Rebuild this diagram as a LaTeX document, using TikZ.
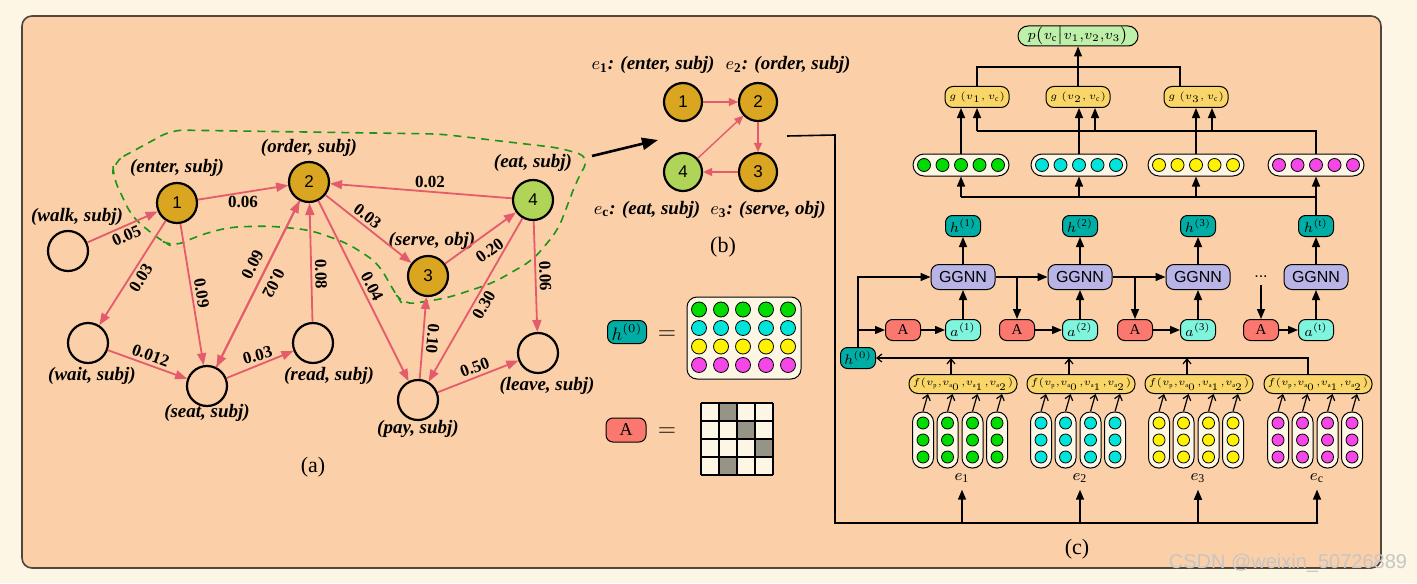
\documentclass[tikz,border=0pt]{standalone}
\usepackage{amsmath}
\usepackage{fontspec}
\setmainfont{Liberation Serif}
\setsansfont{Liberation Sans}
\usepackage{tikz}
\usetikzlibrary{arrows.meta, calc}

\definecolor{bgout}{RGB}{253,246,229}
\definecolor{peach}{RGB}{251,207,167}
\definecolor{framec}{RGB}{80,70,60}
\definecolor{goldn}{RGB}{218,165,32}
\definecolor{eatg}{RGB}{176,212,88}
\definecolor{edgec}{RGB}{228,92,108}
\definecolor{dashg}{RGB}{25,150,25}
\definecolor{creamc}{RGB}{253,246,229}
\definecolor{tealc}{RGB}{0,173,165}
\definecolor{salmonc}{RGB}{250,120,110}
\definecolor{aquac}{RGB}{127,245,222}
\definecolor{lavc}{RGB}{185,180,230}
\definecolor{goldbox}{RGB}{250,214,105}
\definecolor{pgreen}{RGB}{190,240,170}
\definecolor{dgreen}{RGB}{0,220,0}
\definecolor{dcyan}{RGB}{0,228,218}
\definecolor{dyellow}{RGB}{255,242,0}
\definecolor{dmag}{RGB}{245,70,230}
\definecolor{gridgray}{RGB}{150,147,135}

\newcommand{\evlbl}[1]{{\fontsize{9.5}{10}\selectfont\bfseries\itshape #1}}

\begin{document}
\begin{tikzpicture}[x=0.5pt, y=-0.5pt,
    gnode/.style={circle, draw, line width=1.1pt, minimum size=20pt, inner sep=0pt,
        font=\sffamily\fontsize{8.5}{9}\selectfont},
    bnode/.style={gnode, minimum size=19pt},
    wedge/.style={draw=edgec, line width=0.9pt, -{Triangle[length=6pt,width=4.5pt]}},
    bedge/.style={draw=edgec, line width=0.7pt, -{Triangle[length=4.5pt,width=4pt]}},
    elbl/.style={font=\bfseries\fontsize{8.5}{9}\selectfont, inner sep=1.5pt},
    cont/.style={draw=dashg, dashed, dash pattern=on 4pt off 3pt, line width=0.8pt},
    rbox/.style={draw, line width=0.5pt, rounded corners=3.5pt, inner sep=0pt,
        minimum width=17.5pt, minimum height=10.5pt, font=\fontsize{7.5}{8}\selectfont},
    hnode/.style={rbox, fill=tealc},
    Anode/.style={rbox, fill=salmonc},
    anode/.style={rbox, fill=aquac},
    ggnn/.style={rbox, fill=lavc, minimum width=32pt, minimum height=12.5pt,
        rounded corners=4pt, font=\sffamily\fontsize{8}{9}\selectfont},
    vbox/.style={rbox, fill=creamc, minimum width=48pt, minimum height=11pt, rounded corners=5.5pt},
    gbox/.style={rbox, fill=goldbox, minimum width=32pt, minimum height=10.5pt,
        rounded corners=4pt, font=\fontsize{5.5}{6}\selectfont},
    fbox/.style={rbox, fill=goldbox, minimum width=54pt, minimum height=9.5pt,
        rounded corners=4.5pt, font=\fontsize{4.6}{5}\selectfont},
    pbox/.style={rbox, fill=pgreen, minimum width=60pt, minimum height=10pt,
        rounded corners=5pt, font=\fontsize{7.5}{8}\selectfont},
    pill/.style={rbox, fill=creamc, minimum width=10.5pt, minimum height=28pt, rounded corners=5pt},
    dot/.style={circle, draw, line width=0.4pt, inner sep=0pt, minimum size=6pt},
    arr/.style={line width=0.7pt, -{Triangle[length=5pt,width=4pt]}},
    oarr/.style={line width=0.6pt, -{Straight Barb[length=2.5pt,width=4pt]}}]

    % Background and panel
    \fill[bgout] (0,0) rectangle (1417,583);
    \draw[framec, fill=peach, line width=0.8pt, rounded corners=5pt] (22,16) rectangle (1381,568);

    % ---------------- (a) event graph ----------------
    \draw[cont, rounded corners=6pt] (113,162) -- (172,130) -- (440,134) -- (560,148) -- (590,157)
        -- (577,180) -- (558,230) -- (533,260) -- (493,283) -- (447,298) -- (403,305) -- (395,293)
        -- (378,263) -- (347,243) -- (310,230) -- (270,226) -- (230,227) -- (200,235) -- (173,247)
        -- (160,240) -- (132,217) -- (113,177) -- cycle;

    \node[gnode] (walk) at (68,251) {};
    \node[gnode, fill=goldn] (enter) at (177,203) {1};
    \node[gnode, fill=goldn] (order) at (309,182) {2};
    \node[gnode, fill=goldn] (serve) at (428,276) {3};
    \node[gnode, fill=eatg] (eat) at (533,200) {4};
    \node[gnode] (wait) at (88,343) {};
    \node[gnode] (seat) at (207,386) {};
    \node[gnode] (read) at (313,343) {};
    \node[gnode] (pay) at (418,400) {};
    \node[gnode] (leave) at (538,353) {};

    \node (walk-t) at (77,217) {\evlbl{(walk, subj)}};
    \node (enter-t) at (177,168) {\evlbl{(enter, subj)}};
    \node (order-t) at (309,148) {\evlbl{(order, subj)}};
    \node (serve-t) at (432,241) {\evlbl{(serve, obj)}};
    \node (eat-t) at (533,163) {\evlbl{(eat, subj)}};
    \node (wait-t) at (92,376) {\evlbl{(wait, subj)}};
    \node (seat-t) at (207,413) {\evlbl{(seat, subj)}};
    \node (read-t) at (329,376) {\evlbl{(read, subj)}};
    \node (pay-t) at (418,429) {\evlbl{(pay, subj)}};
    \node (leave-t) at (547,386) {\evlbl{(leave, subj)}};

    % weighted edges
    \draw[wedge] (walk) -- node[elbl, rotate=24, below] (w1) {0.05} (enter);
    \draw[wedge] (enter) -- node[elbl, below] (w2) {0.06} (order);
    \draw[wedge] (enter) -- node[elbl, rotate=58, below] (w3) {0.03} (wait);
    \draw[wedge] (enter) -- node[elbl, rotate=-81, above] (w4) {0.09} (seat);
    \draw[wedge] (seat) -- node[elbl, rotate=63, above=2pt, pos=0.58] (w5) {0.09} (order);
    \draw[wedge] (order) -- node[elbl, rotate=-117, above=2pt, pos=0.46] (w6) {0.02} (seat);
    \draw[wedge] (read) -- node[elbl, rotate=-89, above, pos=0.4] (w7) {0.08} (order);
    \draw[wedge] (wait) -- node[elbl, rotate=-20, above] (w8) {0.012} (seat);
    \draw[wedge] (seat) -- node[elbl, rotate=15, above] (w9) {0.03} (read);
    \draw[wedge] (order) -- node[elbl, rotate=-38, above, pos=0.42] (w10) {0.03} (serve);
    \draw[wedge] (order) -- node[elbl, rotate=-63, above] (w11) {0.04} (pay);
    \draw[wedge] (eat) -- node[elbl, above, pos=0.45] (w12) {0.02} (order);
    \draw[wedge] (serve) -- node[elbl, rotate=36, below=3pt, pos=0.5] (w13) {0.20} (eat);
    \draw[wedge] (eat) -- node[elbl, rotate=60, below] (w14) {0.30} (pay);
    \draw[wedge] (eat) -- node[elbl, rotate=-88, above] (w15) {0.06} (leave);
    \draw[wedge] (pay) -- node[elbl, rotate=-95, above] (w16) {0.10} (serve);
    \draw[wedge] (pay) -- node[elbl, rotate=20, above] (w17) {0.50} (leave);

    \node[font=\fontsize{11}{12}\selectfont] (cap-a) at (313,467) {(a)};

    % arrow towards the extracted chain
    \coordinate (cA) at (592,156);
    \coordinate (cB) at (658,140);
    \draw[line width=1.3pt, -{Triangle[length=8pt,width=6pt]}] (cA) -- (cB);

    % ---------------- (b) chain ----------------
    \node[bnode, fill=goldn] (b1) at (683,102) {1};
    \node[bnode, fill=goldn] (b2) at (758,102) {2};
    \node[bnode, fill=goldn] (b3) at (758,172) {3};
    \node[bnode, fill=eatg] (bc) at (683,172) {4};
    \draw[bedge] (b1) -- (b2);
    \draw[bedge] (b2) -- (b3);
    \draw[bedge] (b3) -- (bc);
    \draw[bedge] (bc) -- (b2);

    \node (b1-t) at (653,65) {\evlbl{$e_{\mathbf{1}}$: (enter, subj)}};
    \node (b2-t) at (788,65) {\evlbl{$e_{\mathbf{2}}$: (order, subj)}};
    \node (bc-t) at (647,210) {\evlbl{$e_{\mathbf{c}}$: (eat, subj)}};
    \node (b3-t) at (768,210) {\evlbl{$e_{\mathbf{3}}$: (serve, obj)}};
    \node[font=\fontsize{11}{12}\selectfont] (cap-b) at (723,247) {(b)};

    % ---------------- legend ----------------
    \node[hnode, minimum width=19.5pt, minimum height=11.5pt, font=\fontsize{9}{10}\selectfont] (hL) at (627,332) {$h^{(0)}$};
    \node[font=\fontsize{13}{14}\selectfont] (eq1) at (667,335) {$=$};
    \node[rbox, fill=creamc, minimum width=57pt, minimum height=41pt, rounded corners=5pt] (hmat) at (744,338) {};
    \foreach \col [count=\r] in {dgreen, dcyan, dyellow, dmag} {
        \foreach \cx [count=\c] in {699,721,743,766,788} {
            \node[dot, fill=\col, minimum size=7.5pt] (hm-\r-\c) at (\cx, 291+18.5*\r) {};
        }
    }

    \node[Anode, minimum width=20pt, minimum height=12pt, font=\fontsize{9}{10}\selectfont] (AL) at (626,430) {A};
    \node[font=\fontsize{13}{14}\selectfont] (eq2) at (667,432) {$=$};
    \foreach \r in {0,...,3} {
        \foreach \c in {0,...,3} {
            \fill[creamc] (701+18*\c, 403+18*\r) rectangle ++(18,18);
        }
    }
    \foreach \c/\r in {1/0, 2/1, 3/2, 1/3} {
        \fill[gridgray] (701+18*\c, 403+18*\r) rectangle ++(18,18);
    }
    \draw[line width=0.6pt, step=9pt, shift={(701,403)}] (0,0) grid (72,72);

    % ---------------- (c) model ----------------
    % connector from (b)
    \coordinate (bout) at (787,136);
    \coordinate (bturn) at (835,135);
    \coordinate (bend) at (835,523);
    \draw[line width=0.8pt] (bout) -- (bturn) -- (bend) -- (1318,523);

    % event inputs
    \foreach \gx/\col/\lab [count=\i] in {960/dgreen/1, 1078/dcyan/2, 1196/dyellow/3, 1315/dmag/c} {
        \node[fbox] (f\i) at (\gx+3,384) {$f(v_{\mathrm{p}}{,}v_{\mathrm{a}_0}{,}v_{\mathrm{a}_1}{,}v_{\mathrm{a}_2})$};
        \foreach \dx [count=\j] in {-37,-12.5,12.5,37} {
            \node[pill] (p\i-\j) at (\gx+\dx,440) {};
            \foreach \dy [count=\k] in {-17,0,17} {
                \node[dot, fill=\col] (pd\i-\j-\k) at (\gx+\dx,440+\dy) {};
            }
            \draw[oarr] (p\i-\j.north) -- ([xshift=2.5pt]p\i-\j.north |- f\i.south);
        }
        \node[font=\fontsize{8.5}{9}\selectfont] (e\i) at (\gx+2,478) {$e_{\mathrm{\lab}}$};
        \draw[arr] (bend -| e\i.south) -- (e\i.south);
    }

    % initial state
    \node[hnode] (h0) at (858,358) {$h^{(0)}$};
    \foreach \i in {1,2,3} {
        \draw[oarr] ([xshift=-6pt]f\i.north) -- ([xshift=-6pt]f\i.north |- h0);
    }
    \draw[oarr] ([xshift=-5pt]f4.north) |- (h0.east);

    % GGNN steps
    \foreach \ax/\gx/\s [count=\i] in {903/963/1, 1017/1080/2, 1135/1198/3, 1261/1316/t} {
        \node[Anode] (A\i) at (\ax,330) {A};
        \node[anode] (a\i) at (\gx,330) {$a^{(\mathrm{\s})}$};
        \node[ggnn] (gg\i) at (\gx,277) {GGNN};
        \node[hnode] (h\i) at (\gx,226) {$h^{(\mathrm{\s})}$};
        \draw[arr] (A\i) -- (a\i);
        \draw[arr] (a\i) -- (gg\i);
        \draw[arr] (gg\i) -- (h\i);
    }
    \node[font=\sffamily\fontsize{8}{9}\selectfont] (gdots) at (1261,277) {...};
    \draw[arr] (h0.north) |- (gg1.west);
    \draw[arr] (h0.north |- A1) -- (A1.west);
    \draw[arr] (gg1) -- (gg2);
    \draw[arr] (gg2) -- (gg3);
    \draw[arr] (gg1.east -| A2.north) -- (A2.north);
    \draw[arr] (gg2.east -| A3.north) -- (A3.north);
    \draw[arr] (gdots.south) -- (A4.north);

    % event vectors
    \coordinate (hl) at (961,197);
    \foreach \vx/\col [count=\i] in {961/dgreen, 1079/dcyan, 1196/dyellow, 1316/dmag} {
        \node[vbox] (v\i) at (\vx,165) {};
        \foreach \dx [count=\j] in {-37,-18.5,0,18.5,37} {
            \node[dot, fill=\col, minimum size=6.5pt] (vd\i-\j) at (\vx+\dx,165) {};
        }
        \draw[arr] (v\i.south |- hl) -- (v\i.south);
    }
    \draw[line width=0.7pt] (h4.north) |- (hl);

    % pair scores
    \node[gbox] (g1) at (977,97) {$g\;(v_1,v_{\mathrm{c}})$};
    \node[gbox] (g2) at (1078,97) {$g\;(v_2,v_{\mathrm{c}})$};
    \node[gbox] (g3) at (1196,97) {$g\;(v_3,v_{\mathrm{c}})$};
    \coordinate (gl) at (977,131);
    \draw[line width=0.7pt] (v4.north) |- (gl);
    \draw[arr] (v1.north) -- (v1.north |- g1.south);
    \draw[arr] (v2.north) -- (v2.north |- g2.south);
    \draw[arr] (v3.north) -- (v3.north |- g3.south);
    \draw[arr] (gl) -- (gl |- g1.south);
    \draw[arr] ([xshift=8.5pt]g2.south |- gl) -- ([xshift=8.5pt]g2.south);
    \draw[arr] ([xshift=8pt]g3.south |- gl) -- ([xshift=8pt]g3.south);

    % output
    \node[pbox] (p) at (1078,36) {$p\big(v_{\mathrm{c}}\big|v_1{,}v_2{,}v_3\big)$};
    \coordinate (pl) at (977,67);
    \draw[line width=0.7pt] (g1.north) -- (pl) -| ([xshift=-8pt]g3.north);
    \draw[arr] (g2.north) -- (p.south);

    \node[font=\fontsize{11}{12}\selectfont] (cap-c) at (1077,549) {(c)};

    % watermark
    \node[font=\sffamily\fontsize{10}{11}\selectfont, text=gray!45] (wm) at (1288,563) {CSDN @weixin\_50726889};
\end{tikzpicture}
\end{document}
